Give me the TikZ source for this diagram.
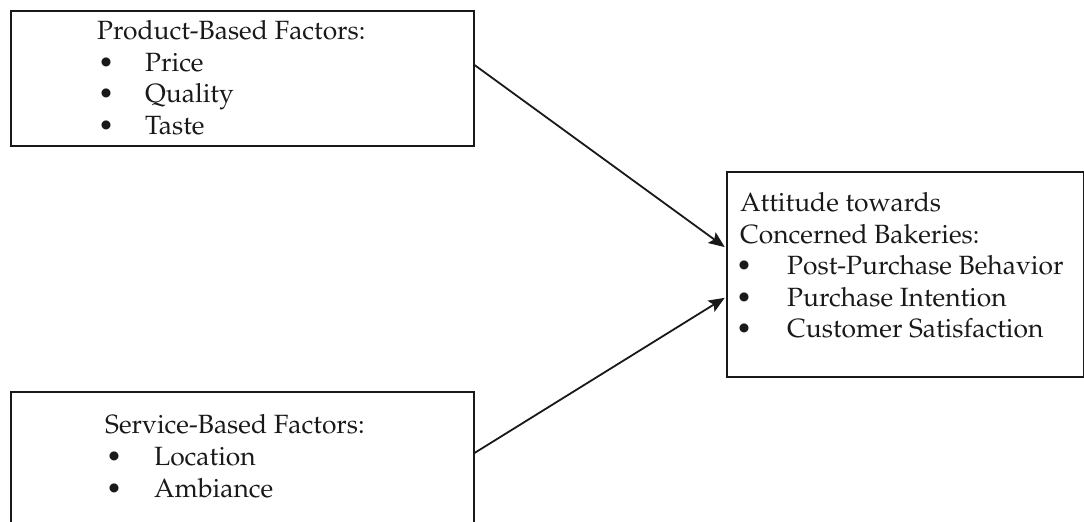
\documentclass[tikz,border=0pt]{standalone}
\usepackage[T1]{fontenc}
\usepackage{mathpazo}
\usetikzlibrary{arrows.meta}
\tikzset{
  boxline/.style={draw=black!90, line width=2bp},
  txt/.style={inner sep=0pt, anchor=base west, font=\fontsize{26.5}{30}\selectfont, text=black!90},
  conn/.style={draw=black!90, line width=1.8bp, -{Stealth[length=16bp,width=13bp,inset=3bp]}, shorten >=1.5bp}
}
\begin{document}
\begin{tikzpicture}[x=1bp,y=-1bp]
\useasboundingbox (0,0) rectangle (1084,522);
\clip (0,0) rectangle (1084,522);
% boxes
\node[boxline, minimum width=463bp, minimum height=135bp, inner sep=0pt, anchor=north west] (pbox) at (9.5,10) {};
\node[boxline, minimum width=463bp, minimum height=160bp, inner sep=0pt, anchor=north west] (sbox) at (9.5,391) {};
\node[boxline, minimum width=356.5bp, minimum height=205bp, inner sep=0pt, anchor=north west] (abox) at (726,171) {};
% box 1 text
\node[txt] (p0) at (97,40) {Product-Based Factors:};
\node[txt] (pb1) at (98,71.5) {\textbullet};
\node[txt] (p1) at (145,71.5) {Price};
\node[txt] (pb2) at (98,103) {\textbullet};
\node[txt] (p2) at (145,103) {Quality};
\node[txt] (pb3) at (98,134.5) {\textbullet};
\node[txt] (p3) at (145,134.5) {Taste};
% box 2 text
\node[txt] (s0) at (105,433) {Service-Based Factors:};
\node[txt] (sb1) at (106,465) {\textbullet};
\node[txt] (s1) at (154,465) {Location};
\node[txt] (sb2) at (106,497) {\textbullet};
\node[txt] (s2) at (154,497) {Ambiance};
% box 3 text
\node[txt] (a0) at (740,212) {Attitude towards};
\node[txt] (a0b) at (740,243.5) {Concerned Bakeries:};
\node[txt] (ab1) at (736,275) {\textbullet};
\node[txt] (a1) at (787,275) {Post-Purchase Behavior};
\node[txt] (ab2) at (736,306.5) {\textbullet};
\node[txt] (a2) at (787,306.5) {Purchase Intention};
\node[txt] (ab3) at (736,338) {\textbullet};
\node[txt] (a3) at (787,338) {Customer Satisfaction};
% connector anchor heights
\coordinate (y1s) at (0,65);
\coordinate (y1e) at (0,248);
\coordinate (y2s) at (0,453);
\coordinate (y2e) at (0,297);
\draw[conn] (pbox.east |- y1s) -- (abox.west |- y1e);
\draw[conn] (sbox.east |- y2s) -- (abox.west |- y2e);
\end{tikzpicture}
\end{document}
